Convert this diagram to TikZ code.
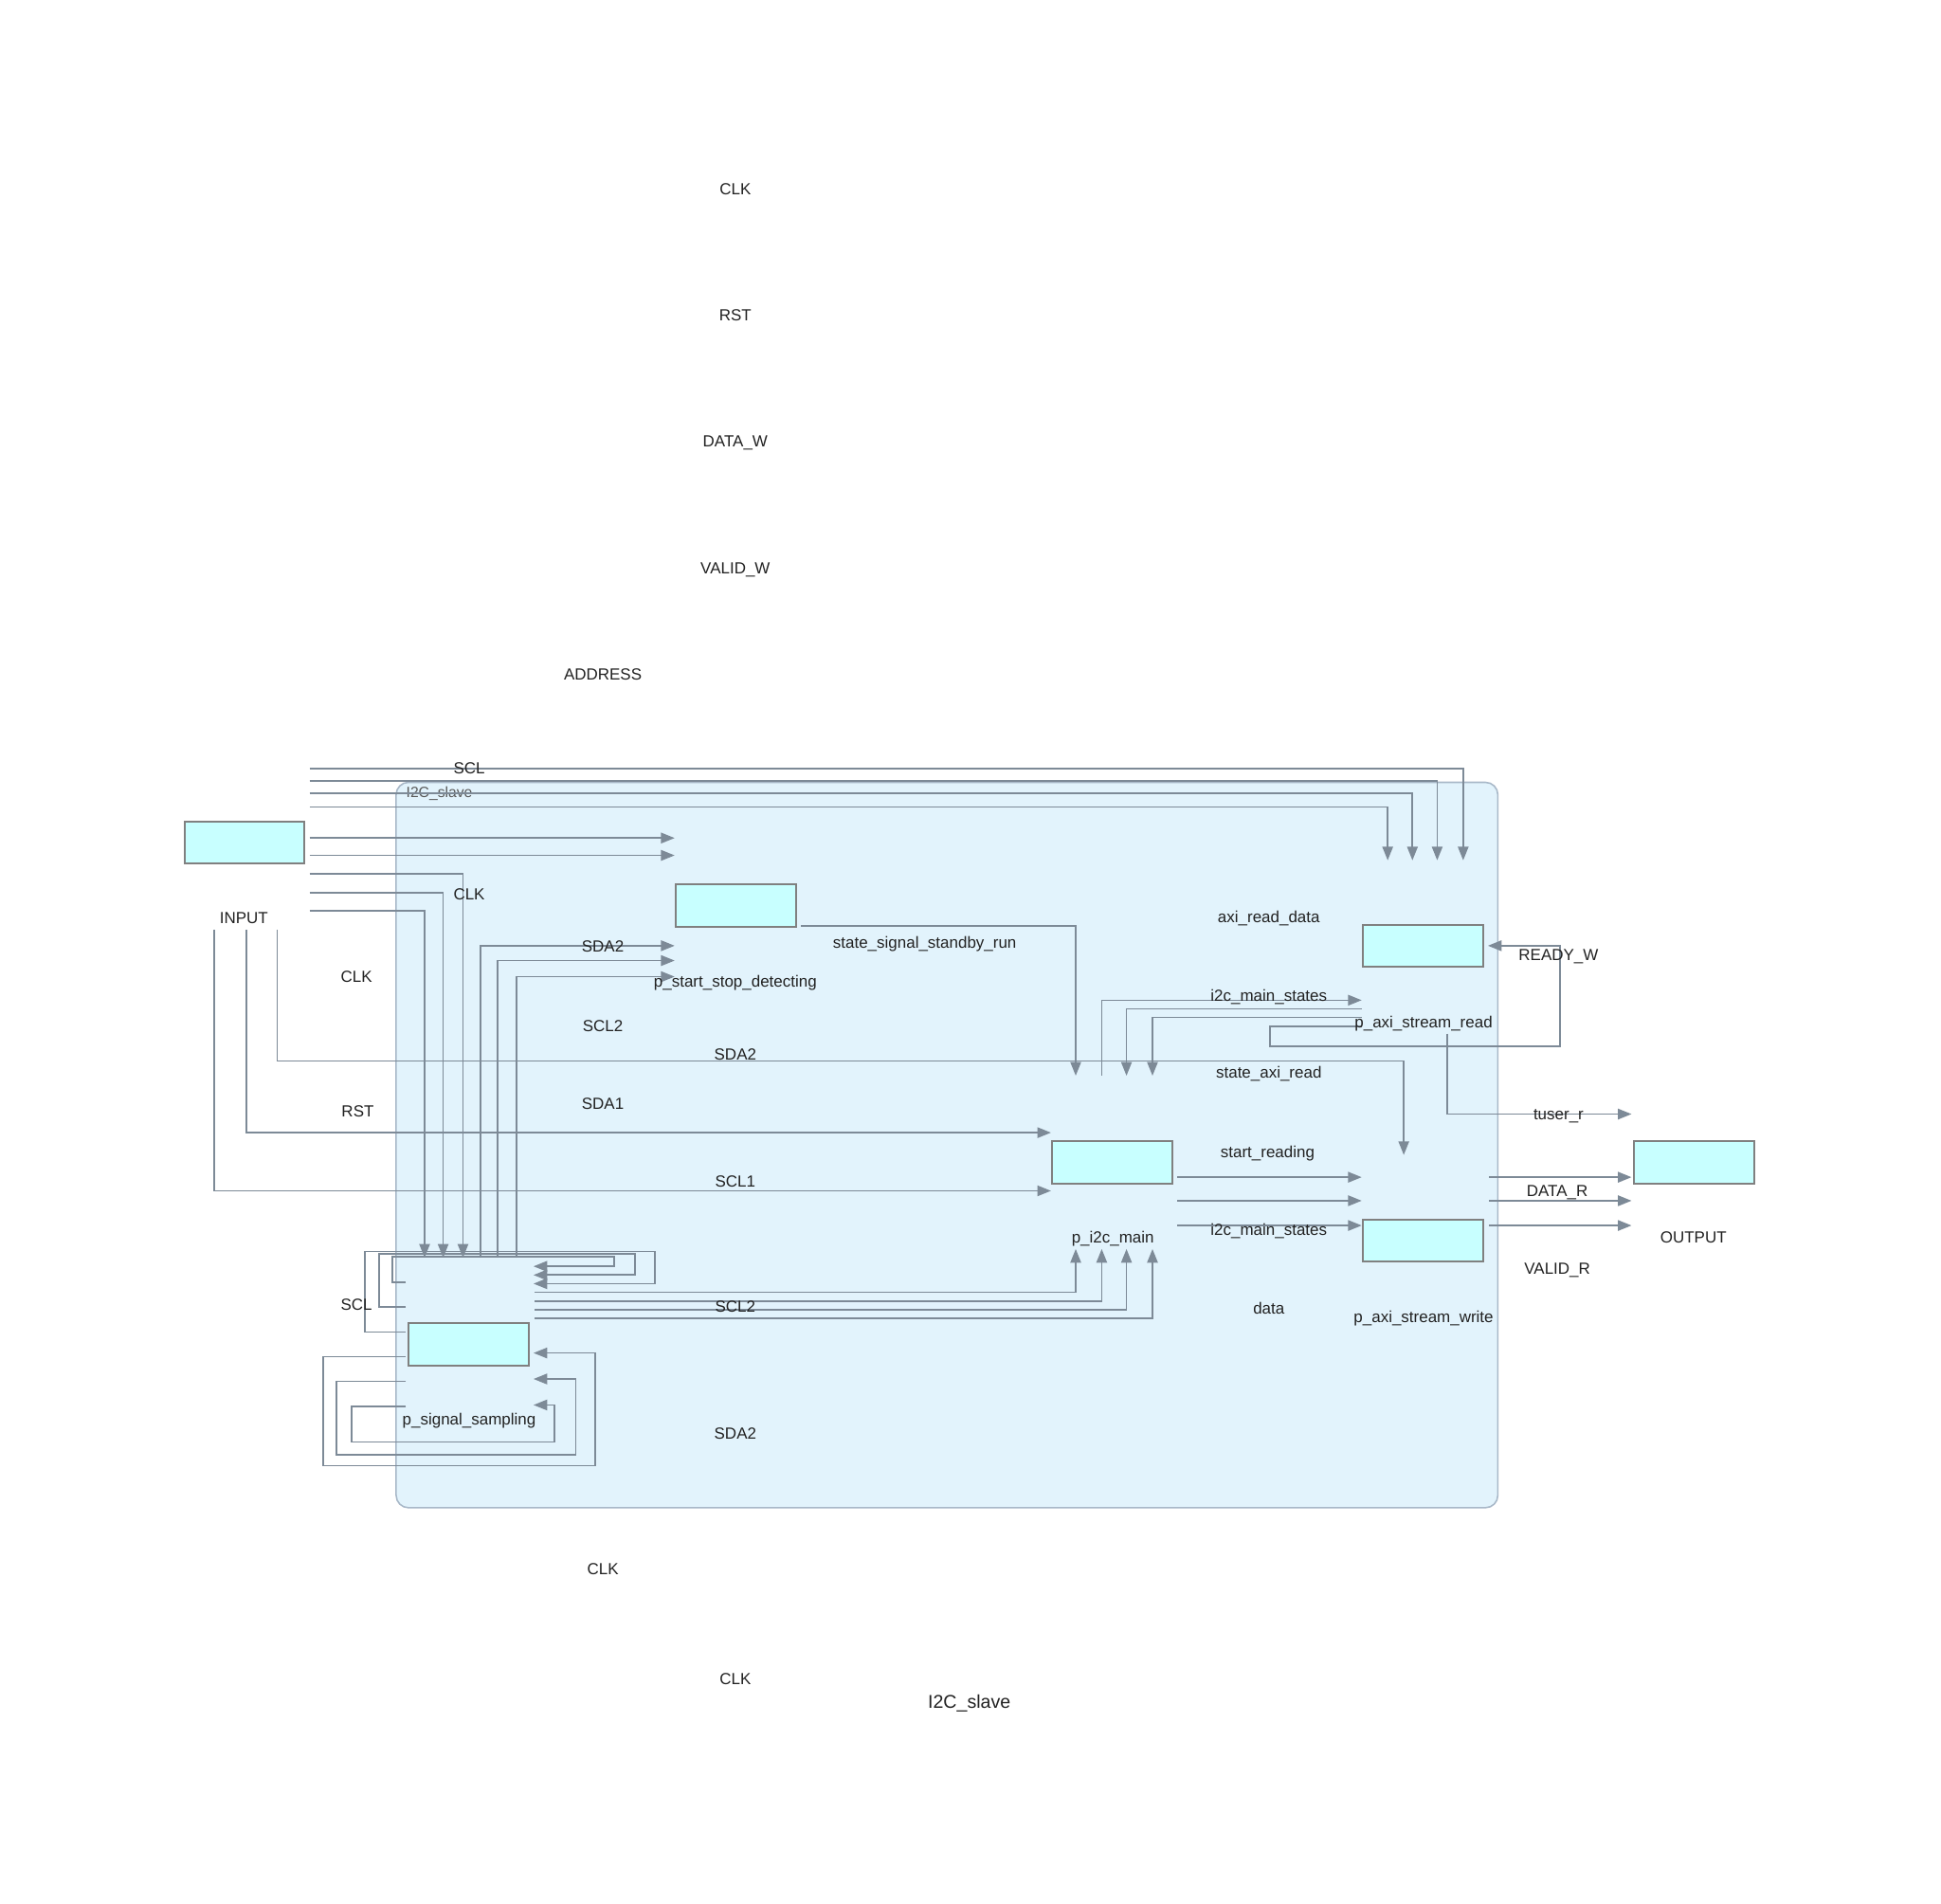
\documentclass[tikz,border=0pt]{standalone}
\usepackage{fontspec}
\setmainfont{Liberation Sans}
\usetikzlibrary{arrows.meta}
\definecolor{wirec}{HTML}{7D8A97}
\definecolor{boxfill}{HTML}{C8FFFF}
\definecolor{boxline}{HTML}{808080}
\definecolor{grpfill}{HTML}{E2F3FC}
\definecolor{grpline}{HTML}{A8B8C8}
\definecolor{txtc}{HTML}{222222}
\begin{document}
\begin{tikzpicture}[x=1pt,y=-1pt,
  blk/.style={draw=boxline,line width=1.5pt,fill=boxfill,minimum width=97pt,minimum height=34pt,inner sep=0pt},
  lbl/.style={text=txtc,font=\fontsize{13}{15}\selectfont,inner sep=0pt,text height=9.5pt,text depth=3pt,yshift=-1pt},
  wire/.style={draw=wirec,line width=1.3pt},
  arr/.style={wire,-{Triangle[length=11pt,width=8.5pt]}}]
\useasboundingbox (0,0) rectangle (1568,1538);
\fill[white] (0,0) rectangle (1568,1538);
% container
\node[draw=grpline,fill=grpfill,line width=1.2pt,rounded corners=10pt,minimum width=890pt,minimum height=586pt,inner sep=0pt] (grp) at (765,925) {};
\node[anchor=west,text=black!65,font=\fontsize{12}{14}\selectfont,inner sep=0pt] (grplbl) at (328,641) {I2C\_slave};

% INPUT -> p_axi_stream_read (top bus)
\foreach \y/\x [count=\i] in {621/1182,631/1161,641/1141,652/1121}{
  \coordinate (inA\i) at (250,\y); \coordinate (rdA\i) at (\x,695);
  \draw[arr] (inA\i) -| (rdA\i);}
% INPUT -> p_start_stop_detecting
\foreach \y [count=\i] in {677,691}{
  \coordinate (inB\i) at (250,\y); \coordinate (ssB\i) at (545,\y);
  \draw[arr] (inB\i) -- (ssB\i);}
% INPUT -> p_signal_sampling
\foreach \y/\x [count=\i] in {706/374,721/358,736/343}{
  \coordinate (inC\i) at (250,\y); \coordinate (sgC\i) at (\x,1016);
  \draw[arr] (inC\i) -| (sgC\i);}
% INPUT -> p_i2c_main
\coordinate (inD1) at (173,751); \coordinate (mnD1) at (849,962);
\coordinate (inD2) at (199,751); \coordinate (mnD2) at (849,915);
\draw[arr] (inD1) |- (mnD1);
\draw[arr] (inD2) |- (mnD2);
% INPUT -> p_axi_stream_write (SDA2)
\coordinate (inD3) at (224,751); \coordinate (wrD3) at (1134,933);
\draw[arr] (inD3) |- (1134,857) -- (wrD3);
% p_signal_sampling -> p_start_stop_detecting
\foreach \x/\y [count=\i] in {388/764,402/776,417/789}{
  \coordinate (sgE\i) at (\x,1016); \coordinate (ssE\i) at (545,\y);
  \draw[arr] (sgE\i) |- (ssE\i);}
% p_start_stop_detecting -> p_i2c_main
\coordinate (ssF) at (647,748); \coordinate (mnF) at (869,869);
\draw[arr] (ssF) -| (mnF);
% p_i2c_main -> p_axi_stream_read
\coordinate (mnG) at (890,869); \coordinate (rdG) at (1100,808);
\draw[arr] (mnG) |- (rdG);
% p_axi_stream_read -> p_i2c_main
\coordinate (rdH1) at (1100,815); \coordinate (mnH1) at (910,869);
\coordinate (rdH2) at (1100,822); \coordinate (mnH2) at (931,869);
\draw[arr] (rdH1) -| (mnH1);
\draw[arr] (rdH2) -| (mnH2);
% p_axi_stream_read self loop
\coordinate (rdI) at (1100,829); \coordinate (rdIin) at (1202,764);
\draw[arr] (rdI) -- (1026,829) -- (1026,845) -- (1260,845) -- (1260,764) -- (rdIin);
% p_axi_stream_read -> OUTPUT (tuser_r)
\coordinate (rdJ) at (1169,835); \coordinate (outJ) at (1318,900);
\draw[arr] (rdJ) |- (outJ);
% p_i2c_main -> p_axi_stream_write ; p_axi_stream_write -> OUTPUT
\foreach \y [count=\i] in {951,970,990}{
  \coordinate (mnK\i) at (951,\y); \coordinate (wrK\i) at (1100,\y);
  \draw[arr] (mnK\i) -- (wrK\i);
  \coordinate (wrL\i) at (1203,\y); \coordinate (outL\i) at (1318,\y);
  \draw[arr] (wrL\i) -- (outL\i);}
% p_signal_sampling -> p_i2c_main
\foreach \y/\x [count=\i] in {1044/869,1051/890,1058/910,1065/931}{
  \coordinate (sgM\i) at (432,\y); \coordinate (mnM\i) at (\x,1009);
  \draw[arr] (sgM\i) -| (mnM\i);}
% p_signal_sampling self loops (top)
\foreach \ys/\xl/\yt/\xr/\ye [count=\i] in {1076/295/1011/529/1037,1056/306/1013/513/1030,1036/317/1015/496/1023}{
  \coordinate (sgN\i) at (328,\ys); \coordinate (sgNin\i) at (431,\ye);
  \draw[arr] (sgN\i) -- (\xl,\ys) -- (\xl,\yt) -- (\xr,\yt) -- (\xr,\ye) -- (sgNin\i);}
% p_signal_sampling self loops (bottom)
\foreach \ys/\xl/\yb/\xr/\ye [count=\i] in {1096/261/1184/481/1093,1116/272/1175/465/1114,1136/284/1165/448/1135}{
  \coordinate (sgP\i) at (328,\ys); \coordinate (sgPin\i) at (431,\ye);
  \draw[arr] (sgP\i) -- (\xl,\ys) -- (\xl,\yb) -- (\xr,\yb) -- (\xr,\ye) -- (sgPin\i);}

% blocks
\node[blk] (input) at (197.5,680.5) {};
\node[blk] (ssd) at (594.5,731.5) {};
\node[blk] (axr) at (1149.5,764) {};
\node[blk] (main) at (898.5,939) {};
\node[blk] (axw) at (1149.5,1002) {};
\node[blk] (output) at (1368.5,939) {};
\node[blk] (samp) at (378.5,1086) {};

% labels
\node[lbl] (t1) at (594,153) {CLK};
\node[lbl] (t2) at (594,255) {RST};
\node[lbl] (t3) at (594,357) {DATA\_W};
\node[lbl] (t4) at (594,459) {VALID\_W};
\node[lbl] (t5) at (487,545) {ADDRESS};
\node[lbl] (l1) at (379,621) {SCL};
\node[lbl] (l2) at (379,723) {CLK};
\node[lbl] (l3) at (197,742) {INPUT};
\node[lbl] (l4) at (288,789) {CLK};
\node[lbl] (l5) at (289,898) {RST};
\node[lbl] (l6) at (288,1054) {SCL};
\node[lbl] (l7) at (487,765) {SDA2};
\node[lbl] (l8) at (487,829) {SCL2};
\node[lbl] (l9) at (487,892) {SDA1};
\node[lbl] (l10) at (594,793) {p\_start\_stop\_detecting};
\node[lbl] (l11) at (594,852) {SDA2};
\node[lbl] (l12) at (594,955) {SCL1};
\node[lbl] (l13) at (594,1056) {SCL2};
\node[lbl] (l14) at (594,1158) {SDA2};
\node[lbl] (l15) at (747,762) {state\_signal\_standby\_run};
\node[lbl] (l16) at (1025,741) {axi\_read\_data};
\node[lbl] (l17) at (1025,805) {i2c\_main\_states};
\node[lbl] (l18) at (1025,867) {state\_axi\_read};
\node[lbl] (l19) at (1024,931) {start\_reading};
\node[lbl] (l20) at (1025,994) {i2c\_main\_states};
\node[lbl] (l21) at (1025,1057) {data};
\node[lbl] (l22) at (1150,826) {p\_axi\_stream\_read};
\node[lbl] (l23) at (899,1000) {p\_i2c\_main};
\node[lbl] (l24) at (1150,1064) {p\_axi\_stream\_write};
\node[lbl] (l25) at (1368,1000) {OUTPUT};
\node[lbl] (l26) at (379,1147) {p\_signal\_sampling};
\node[lbl] (l27) at (1259,772) {READY\_W};
\node[lbl] (l28) at (1259,900) {tuser\_r};
\node[lbl] (l29) at (1258,962) {DATA\_R};
\node[lbl] (l30) at (1258,1025) {VALID\_R};
\node[lbl] (b1) at (487,1268) {CLK};
\node[lbl] (b2) at (594,1357) {CLK};
\node[lbl,font=\fontsize{15}{17}\selectfont] (b3) at (783,1376) {I2C\_slave};
\end{tikzpicture}
\end{document}
